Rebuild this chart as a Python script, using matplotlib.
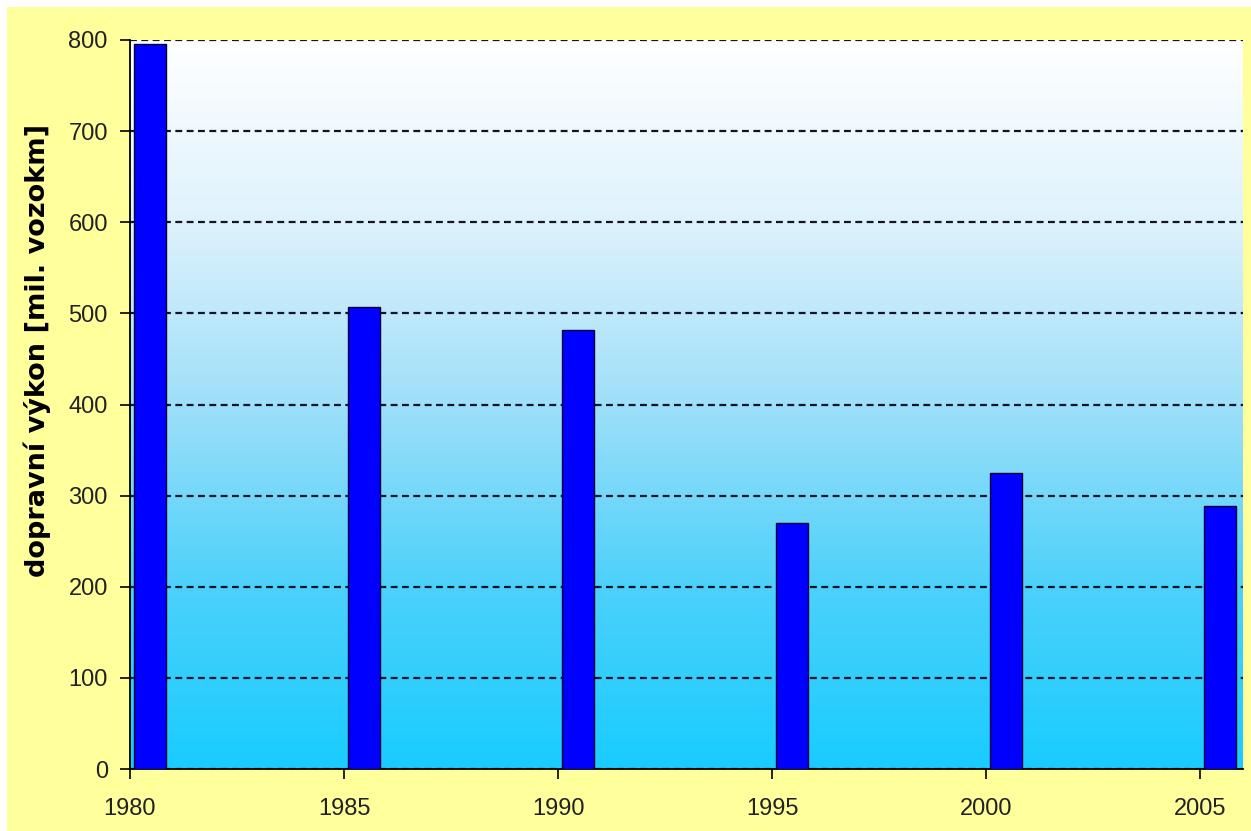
import numpy as np
import matplotlib.pyplot as plt
from matplotlib.colors import LinearSegmentedColormap
from matplotlib.patches import Rectangle

# data
years = [1980, 1985, 1990, 1995, 2000, 2005]
vykon = [796, 507, 482, 270, 325, 289]
y_ticks = [0, 100, 200, 300, 400, 500, 600, 700, 800]
x_ticks = [1980, 1985, 1990, 1995, 2000, 2005]

plt.rcParams['font.family'] = ['Liberation Sans', 'DejaVu Sans']

fig = plt.figure(figsize=(12.51, 8.31), dpi=100)
fig.patch.set_facecolor('white')
# yellow chart area (small white margin top and left)
fig.patches.append(Rectangle((7 / 1251, 0), 1, 1 - 7 / 831, transform=fig.transFigure,
                             facecolor='#ffff9c', edgecolor='none', zorder=-10))

ax = fig.add_axes([130 / 1251, 1 - 769 / 831, (1243 - 130) / 1251, (769 - 40) / 831])
ax.set_xlim(1980, 2006)
ax.set_ylim(0, 800)

# white -> cyan gradient background of the plot area
grad = LinearSegmentedColormap.from_list('bg', [
    (0.0, '#19ccff'),
    (0.25, '#4cd1fb'),
    (0.5, '#9edff9'),
    (0.75, '#def2fc'),
    (1.0, '#ffffff'),
])
ax.imshow(np.linspace(0, 1, 256).reshape(-1, 1), cmap=grad, origin='lower', aspect='auto',
          extent=[1980, 2006, 0, 800], zorder=0)

ax.set_yticks(y_ticks)
ax.grid(axis='y', color='#141428', linestyle=(0, (3.1, 2.0)), linewidth=1.6, zorder=1)
ax.set_axisbelow(True)

ax.bar([y + 0.46 for y in years], vykon, width=0.75, color='#0000ff',
       edgecolor='#000033', linewidth=1.0, zorder=3)

ax.set_xticks(x_ticks)
ax.tick_params(axis='both', labelsize=17, direction='out', length=7, width=1.2, color='black',
               labelcolor='#222222')
ax.tick_params(axis='x', pad=14)
ax.tick_params(axis='y', pad=9)

for s in ['top', 'right']:
    ax.spines[s].set_visible(False)
for s in ['left', 'bottom']:
    ax.spines[s].set_linewidth(1.3)
    ax.spines[s].set_color('black')

fig.text(37 / 1251, 1 - 350 / 831, 'dopravní výkon [mil. vozokm]', rotation=90,
         ha='center', va='center', fontsize=19.5, fontweight='bold', family='DejaVu Sans')

fig.savefig('out.png', dpi=100, facecolor=fig.get_facecolor())
